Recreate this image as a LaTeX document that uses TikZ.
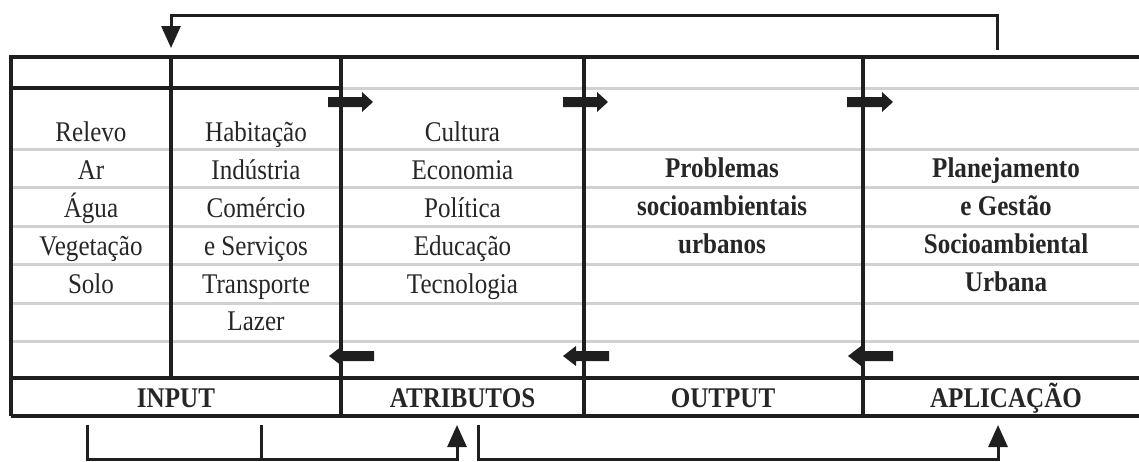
\documentclass[tikz,border=0pt]{standalone}
\usepackage{fontspec}
\usetikzlibrary{arrows.meta}
\newfontfamily\lbfont[FakeStretch=0.88]{Liberation Serif}
\newcommand\rblock[3]{\fill[black!88] (#1,#3-5) -- (#2-11,#3-5) -- (#2-11,#3-10) -- (#2,#3) -- (#2-11,#3+10) -- (#2-11,#3+5) -- (#1,#3+5) -- cycle;}
\newcommand\lblock[3]{\fill[black!88] (#2,#3-5) -- (#1+13,#3-5) -- (#1+13,#3-10) -- (#1,#3) -- (#1+13,#3+10) -- (#1+13,#3+5) -- (#2,#3+5) -- cycle;}
\tikzset{
  frame/.style={line width=3.4pt, draw=black!88},
  rulegray/.style={line width=3pt, draw=black!18},
  conn/.style={line width=3pt, draw=black!88, line join=miter},
  tipup/.style={-{Triangle[length=22pt,width=19pt]}},
  lbl/.style={font={\lbfont\fontsize{28.5}{34}\selectfont}, text=black!85, inner sep=0pt, anchor=base},
  blbl/.style={lbl, font={\lbfont\bfseries\fontsize{28.5}{34}\selectfont}}
}
\begin{document}
\begin{tikzpicture}[x=1pt,y=-1pt]
\useasboundingbox (0,0) rectangle (1139,461);
% gray rules
\draw[rulegray] (341,88) -- (1139,88);
\foreach \yy in {149,187.5,226,264.5,303,341.5} {\draw[rulegray] (11,\yy) -- (1139,\yy);}
% frame
\draw[frame] (11,416) -- (11,57) -- (1139,57);
\draw[frame] (11,88) -- (341,88);
\draw[frame] (171,57) -- (171,378);
\draw[frame] (341,57) -- (341,416);
\draw[frame] (584,57) -- (584,416);
\draw[frame] (863,57) -- (863,416);
\draw[frame] (11,378) -- (1139,378);
\draw[frame] (11,416) -- (1139,416);
% block arrows
\rblock{328}{373}{102}
\rblock{563}{608}{102}
\rblock{847}{893}{102}
\lblock{329}{374}{356}
\lblock{563}{609}{356}
\lblock{848}{893}{356}
% column 1
\node[lbl] (c1a) at (91,141.5) {Relevo};
\node[lbl] (c1b) at (91,179.5) {Ar};
\node[lbl] (c1c) at (91,217.5) {Água};
\node[lbl] (c1d) at (91,255) {Vegetação};
\node[lbl] (c1e) at (91,293) {Solo};
% column 2
\node[lbl] (c2a) at (256,141.5) {Habitação};
\node[lbl] (c2b) at (256,179.5) {Indústria};
\node[lbl] (c2c) at (256,217.5) {Comércio};
\node[lbl] (c2d) at (256,255) {e Serviços};
\node[lbl] (c2e) at (256,293) {Transporte};
\node[lbl] (c2f) at (256,330.5) {Lazer};
% column 3
\node[lbl] (c3a) at (462.5,141.5) {Cultura};
\node[lbl] (c3b) at (462.5,179.5) {Economia};
\node[lbl] (c3c) at (462.5,217.5) {Política};
\node[lbl] (c3d) at (462.5,255) {Educação};
\node[lbl] (c3e) at (462.5,293) {Tecnologia};
% column 4
\node[blbl] (c4a) at (722,177) {Problemas};
\node[blbl] (c4b) at (722,215) {socioambientais};
\node[blbl] (c4c) at (722,253) {urbanos};
% column 5
\node[blbl] (c5a) at (1006,177) {Planejamento};
\node[blbl] (c5b) at (1006,215) {e Gestão};
\node[blbl] (c5c) at (1006,253) {Socioambiental};
\node[blbl] (c5d) at (1006,291) {Urbana};
% bottom labels
\node[blbl] (hin) at (176,407) {INPUT};
\node[blbl] (hat) at (462.5,407) {ATRIBUTOS};
\node[blbl] (hout) at (723,407) {OUTPUT};
\node[blbl] (hap) at (1006,407) {APLICAÇÃO};
% connectors
\coordinate (fbA) at (997,50);
\coordinate (fbB) at (171,48);
\draw[conn,tipup] (fbA) -- ++(0,-35) -| (fbB);
\coordinate (b1) at (87,425);
\coordinate (b2) at (261,425);
\coordinate (b3) at (457,425);
\coordinate (b4) at (478,425);
\coordinate (b5) at (998,425);
\draw[conn,tipup] (b1) -- ++(0,34.5) -| (b3);
\draw[conn] (b2) -- ++(0,34.5);
\draw[conn,tipup] (b4) -- ++(0,34.5) -| (b5);
\end{tikzpicture}
\end{document}
